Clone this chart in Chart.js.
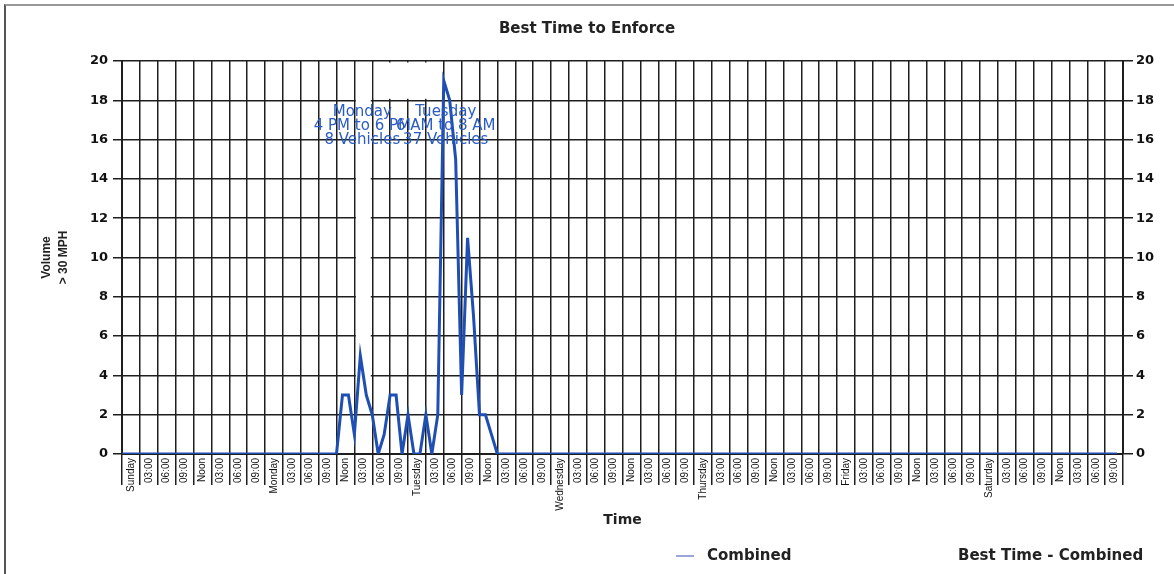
<!DOCTYPE html>
<html>
<head>
<meta charset="utf-8">
<script src="https://cdn.jsdelivr.net/npm/chart.js@4.4.0/dist/chart.umd.min.js"></script>
<style>
html, body { margin: 0; padding: 0; background: #fff; }
#wrap { position: relative; width: 1174px; height: 574px; }
#frame { position: absolute; left: 4px; top: 4px; width: 1170px; height: 570px; border-left: 2px solid #555; border-top: 2px solid #999; box-sizing: border-box; pointer-events: none; }
</style>
</head>
<body>
<div id="wrap">
<canvas id="chart-speed" width="1174" height="574"></canvas>
<div id="frame"></div>
</div>
<script>
// tick labels: one cell per 3 hours
var days = ['Sunday', 'Monday', 'Tuesday', 'Wednesday', 'Thursday', 'Friday', 'Saturday'];
var hourLabels = ['03:00', '06:00', '09:00', 'Noon', '03:00', '06:00', '09:00'];

// hourly volume > 30 MPH
var sunday    = [0,0,0,0,0,0,0,0,0,0,0,0, 0,0,0,0,0,0,0,0,0,0,0,0];
var monday    = [0,0,0,0,0,0,0,0,0,0,0,0, 0,3,3,1,5,3,2,0,1,3,3,0];
var tuesday   = [2,0,0,2,0,2,19,18,15,3,11,7, 2,2,1,0,0,0,0,0,0,0,0,0];
var wednesday = [0,0,0,0,0,0,0,0,0,0,0,0, 0,0,0,0,0,0,0,0,0,0,0,0];
var thursday  = [0,0,0,0,0,0,0,0,0,0,0,0, 0,0,0,0,0,0,0,0,0,0,0,0];
var friday    = [0,0,0,0,0,0,0,0,0,0,0,0, 0,0,0,0,0,0,0,0,0,0,0,0];
var saturday  = [0,0,0,0,0,0,0,0,0,0,0,0, 0,0,0,0,0,0,0,0,0,0,0,0];

// best time windows
var bestDay = ['Monday', 'Tuesday'];
var bestRange = ['4 PM to 6 PM', '6 AM to 8 AM'];
var bestCount = ['8 Vehicles', '37 Vehicles'];
var bestStart = [40, 54];

// white patches behind the label boxes (hours / volume)
var blankBoxes = [{x0: 39, x1: 42, y0: 3, y1: 20}, {x0: 42, x1: 54, y0: 18, y1: 20}];

var tickLabels = [];
days.forEach(function(d) {
    tickLabels.push(d);
    hourLabels.forEach(function(h) { tickLabels.push(h); });
});
var combined = [].concat(sunday, monday, tuesday, wednesday, thursday, friday, saturday);
var combinedPts = combined.map(function(v, i) { return {x: i, y: v}; });

var gridCol = '#1e1e1e';
var lineBlue = '#1f4fb3';

var blankPlugin = {
    id: 'blank',
    beforeDatasetsDraw: function(chart) {
        var ctx = chart.ctx, xs = chart.scales.x, ys = chart.scales.y;
        ctx.save();
        ctx.fillStyle = '#fff';
        blankBoxes.forEach(function(b) {
            var l = xs.getPixelForValue(b.x0) + 1.5, r = xs.getPixelForValue(b.x1) - 1.5;
            var t = ys.getPixelForValue(b.y1) + 1.5, btm = ys.getPixelForValue(b.y0) - 1.5;
            ctx.fillRect(l, t, r - l, btm - t);
        });
        ctx.restore();
    }
};

var bestPlugin = {
    id: 'best',
    afterDatasetsDraw: function(chart) {
        var ctx = chart.ctx, xs = chart.scales.x, top = chart.chartArea.top;
        ctx.save();
        ctx.font = '15px "DejaVu Sans"';
        ctx.fillStyle = '#2a5cc4';
        ctx.textAlign = 'center';
        ctx.textBaseline = 'middle';
        bestStart.forEach(function(h, i) {
            var cx = xs.getPixelForValue(h) + 2;
            ctx.fillText(bestDay[i], cx, top + 51);
            ctx.fillText(bestRange[i], cx, top + 65);
            ctx.fillText(bestCount[i], cx, top + 79);
        });
        ctx.restore();
    }
};

var legendPlugin = {
    id: 'legendBottom',
    afterDraw: function(chart) {
        var ctx = chart.ctx, ds = chart.data.datasets, y = 556;
        ctx.save();
        ctx.strokeStyle = '#9aa5d8';
        ctx.lineWidth = 2;
        ctx.beginPath();
        ctx.moveTo(676, y);
        ctx.lineTo(694, y);
        ctx.stroke();
        ctx.font = 'bold 15px "DejaVu Sans"';
        ctx.fillStyle = '#222';
        ctx.textAlign = 'left';
        ctx.textBaseline = 'middle';
        ctx.fillText(ds[0].label, 707, y);
        ctx.fillText(ds[1].label, 958, y);
        ctx.restore();
    }
};

var tickFont = {family: '"DejaVu Sans"', size: 13, weight: 'bold'};

var ctxSpeed = document.getElementById('chart-speed').getContext('2d');
var myChart = new Chart(ctxSpeed, {
    type: 'line',
    data: {
        datasets: [{
            label: 'Combined',
            data: combinedPts,
            borderColor: lineBlue,
            backgroundColor: lineBlue,
            borderWidth: 3,
            pointRadius: 0,
            tension: 0
        }, {
            label: 'Best Time - Combined',
            data: [],
            borderColor: 'rgba(0,0,0,0)',
            pointRadius: 0
        }]
    },
    options: {
        responsive: false,
        animation: false,
        layout: { padding: { top: 0, bottom: 40, left: 0, right: 0 } },
        plugins: {
            legend: { display: false },
            tooltip: { enabled: false },
            title: {
                display: true,
                text: 'Best Time to Enforce',
                color: '#222',
                font: { family: '"DejaVu Sans"', size: 15, weight: 'bold' },
                padding: { top: 20, bottom: 23 }
            }
        },
        scales: {
            x: {
                type: 'linear',
                min: 0,
                max: 168,
                afterBuildTicks: function(scale) {
                    var t = [];
                    for (var v = 0; v <= 168; v += 1.5) t.push({value: v});
                    scale.ticks = t;
                },
                afterFit: function(scale) { scale.height = 80; },
                ticks: {
                    autoSkip: false,
                    minRotation: 90,
                    maxRotation: 90,
                    padding: -27,
                    color: '#111',
                    font: { family: '"Liberation Sans"', size: 10 },
                    callback: function(v) {
                        return v % 3 === 1.5 ? tickLabels[(v - 1.5) / 3] : '';
                    }
                },
                grid: {
                    lineWidth: 1.5,
                    tickLength: 31,
                    color: function(c) { return c.tick && c.tick.value % 3 === 0 ? gridCol : 'rgba(0,0,0,0)'; },
                    tickColor: function(c) { return c.tick && c.tick.value % 3 === 0 ? gridCol : 'rgba(0,0,0,0)'; }
                },
                border: { color: gridCol, width: 2 },
                title: {
                    display: true,
                    text: 'Time',
                    color: '#222',
                    font: { family: '"DejaVu Sans"', size: 14, weight: 'bold' },
                    padding: { top: 0, bottom: 5 }
                }
            },
            y: {
                position: 'left',
                min: 0,
                max: 20,
                afterFit: function(scale) { scale.width = 122; },
                ticks: { stepSize: 2, padding: 5, color: '#111', font: tickFont },
                grid: { color: gridCol, lineWidth: 1.5, tickLength: 9 },
                border: { color: gridCol, width: 2 },
                title: {
                    display: true,
                    text: ['Volume', '> 30 MPH'],
                    color: '#222',
                    font: { family: '"Liberation Sans"', size: 12, weight: 'bold', lineHeight: 1.4 },
                    padding: { top: 38.6, bottom: 0 }
                }
            },
            y2: {
                position: 'right',
                min: 0,
                max: 20,
                afterFit: function(scale) { scale.width = 51; },
                ticks: { stepSize: 2, padding: 3, color: '#111', font: tickFont },
                grid: { drawOnChartArea: false, color: gridCol, lineWidth: 1.5, tickLength: 10 },
                border: { color: gridCol, width: 2 }
            }
        }
    },
    plugins: [blankPlugin, bestPlugin, legendPlugin]
});
</script>
</body>
</html>
